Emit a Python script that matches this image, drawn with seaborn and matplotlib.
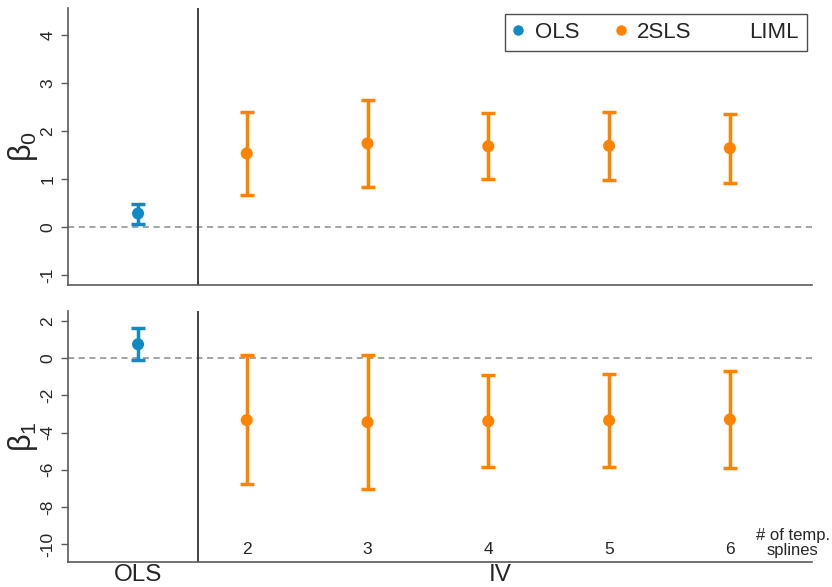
import numpy as np
import pandas as pd
import matplotlib
matplotlib.use("Agg")
import matplotlib.pyplot as plt
from matplotlib.lines import Line2D
import seaborn as sns

# Coefficient estimates with 95% confidence bounds
methods = ["OLS", "2SLS", "2SLS", "2SLS", "2SLS", "2SLS"]
splines = [np.nan, 2, 3, 4, 5, 6]
xpos = [1.1, 2, 3, 4, 5, 6]

b0_est = [0.28, 1.53, 1.74, 1.68, 1.69, 1.64]
b0_lo = [0.07, 0.67, 0.83, 1.00, 0.98, 0.92]
b0_hi = [0.48, 2.39, 2.64, 2.38, 2.40, 2.36]

b1_est = [0.75, -3.33, -3.44, -3.39, -3.35, -3.30]
b1_lo = [-0.09, -6.79, -7.03, -5.86, -5.86, -5.90]
b1_hi = [1.60, 0.15, 0.15, -0.91, -0.86, -0.70]

spline_labels = ["2", "3", "4", "5", "6"]

colors = {"OLS": "#0f8ac2", "2SLS": "#ff8200"}

df = pd.DataFrame({
    "method": methods, "splines": splines, "x": xpos,
    "b0": b0_est, "b0_lo": b0_lo, "b0_hi": b0_hi,
    "b1": b1_est, "b1_lo": b1_lo, "b1_hi": b1_hi,
})

sns.set_theme(style="ticks")
plt.rcParams["font.family"] = ["Liberation Sans", "DejaVu Sans"]
plt.rcParams["mathtext.fontset"] = "custom"
plt.rcParams["mathtext.rm"] = "Liberation Sans"
plt.rcParams["mathtext.it"] = "Liberation Sans"

fig = plt.figure(figsize=(8.32, 5.87), dpi=100)
ax_top = fig.add_axes([68 / 832, 1 - 285 / 587, 744 / 832, 277 / 587])
ax_bot = fig.add_axes([68 / 832, 1 - 561.7 / 587, 744 / 832, 250.7 / 587])

spine_col = "#5a5a5a"


def draw_panel(ax, col, ylim, yticks, ylabel):
    for m, sub in df.groupby("method"):
        est = sub[col].to_numpy()
        lo = sub[col + "_lo"].to_numpy()
        hi = sub[col + "_hi"].to_numpy()
        ax.errorbar(sub["x"], est, yerr=[est - lo, hi - est], fmt="none",
                    ecolor=colors[m], elinewidth=2.5, capsize=5,
                    capthick=2.5, zorder=3)
    sns.scatterplot(data=df, x="x", y=col, hue="method", palette=colors,
                    s=75, edgecolor="none", legend=False, ax=ax, zorder=4)
    ax.axhline(0, color="#8a8a8a", lw=1.1, ls=(0, (4, 3)), zorder=1)
    ax.axvline(1.6, color="#333333", lw=1.3, zorder=2)
    ax.set_xlim(0.52, 6.68)
    ax.set_ylim(*ylim)
    ax.set_yticks(yticks)
    ax.set_yticklabels([f"{t:g}" for t in yticks],
                       rotation=90, va="center", fontsize=12.5)
    ax.set_xticks([])
    ax.set_xlabel("")
    ax.set_ylabel(ylabel, fontsize=22)
    ax.tick_params(axis="y", length=5, width=1, color=spine_col, pad=4)
    for s in ("top", "right"):
        ax.spines[s].set_visible(False)
    for s in ("left", "bottom"):
        ax.spines[s].set_color(spine_col)
        ax.spines[s].set_linewidth(1.2)


draw_panel(ax_top, "b0", (-1.21, 4.56), [-1, 0, 1, 2, 3, 4], r"$\mathrm{\beta_0}$")
draw_panel(ax_bot, "b1", (-10.95, 2.54), [-10, -8, -6, -4, -2, 0, 2],
           r"$\mathrm{\beta_1}$")

# Align y labels horizontally
for ax in (ax_top, ax_bot):
    ax.yaxis.set_label_coords(-0.038, 0.5)

# Spline counts written just above the bottom axis
trans = matplotlib.transforms.blended_transform_factory(ax_bot.transData,
                                                        ax_bot.transAxes)
for xv, lab in zip(xpos[1:], spline_labels):
    ax_bot.text(xv, 0.047, lab, transform=trans, ha="center", va="center",
                fontsize=12.5)
ax_bot.text(6.52, 0.075, "# of temp.\nsplines", transform=trans, ha="center",
            va="center", fontsize=12, linespacing=1.0)

# Group labels below the axis
ax_bot.text(1.1, -0.098, "OLS", transform=trans, ha="center", va="bottom",
            fontsize=17.5)
ax_bot.text(4.1, -0.098, "IV", transform=trans, ha="center", va="bottom",
            fontsize=17.5)

# Legend
handles = [
    Line2D([], [], ls="none", marker="o", ms=7.5, color=colors["OLS"], mec="none"),
    Line2D([], [], ls="none", marker="o", ms=7.5, color=colors["2SLS"], mec="none"),
    Line2D([], [], ls="none", marker="o", ms=7.5, color="none", mec="none"),
]
leg = ax_top.legend(handles, ["OLS", "2SLS", "LIML"], ncol=3,
                    loc="upper right", bbox_to_anchor=(0.993, 0.978),
                    frameon=True, fancybox=False, fontsize=16,
                    handletextpad=0.5, columnspacing=1.6, handlelength=0.5,
                    borderpad=0.35, borderaxespad=0)
leg.get_frame().set_edgecolor("#222222")
leg.get_frame().set_linewidth(1.0)

fig.savefig("out.png", dpi=100)
